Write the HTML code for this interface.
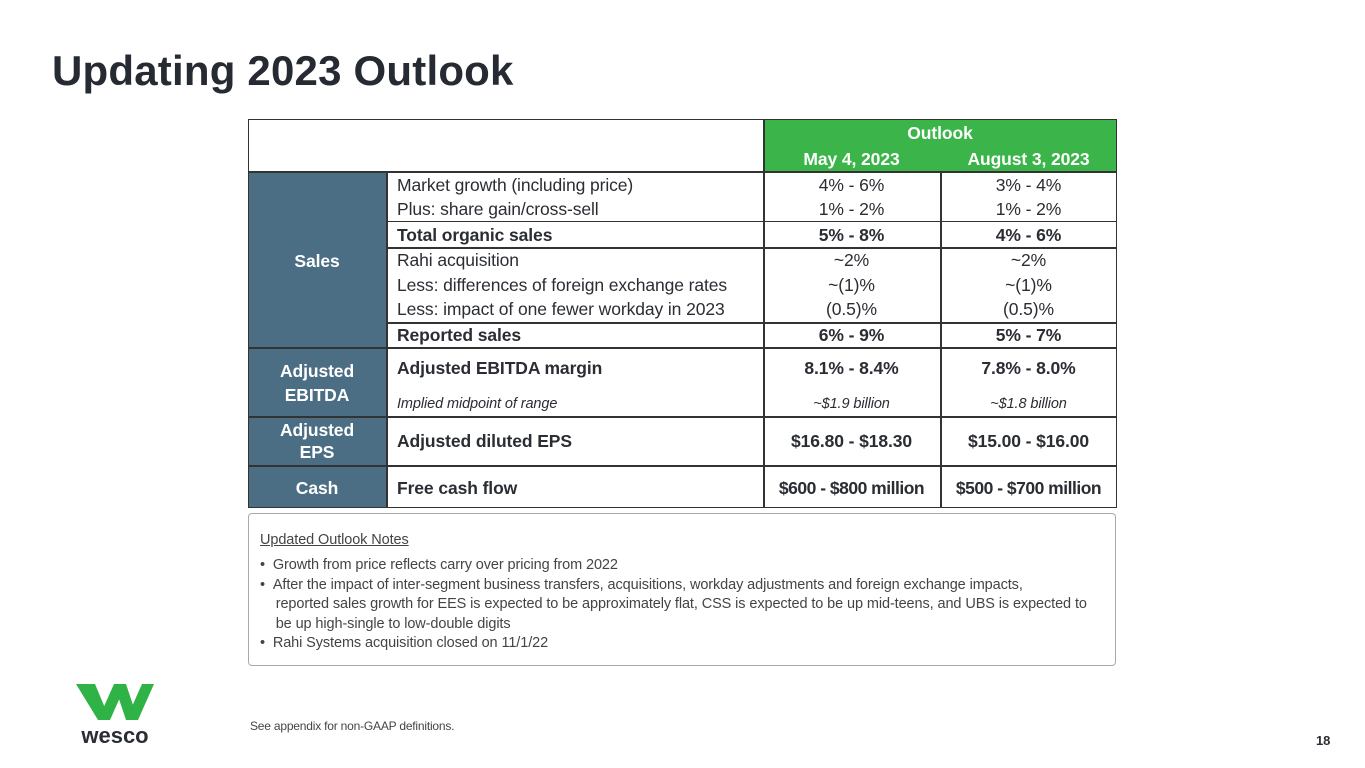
<!DOCTYPE html>
<html><head><meta charset="utf-8">
<style>
body{margin:0;width:1365px;height:768px;background:#fff;position:relative;overflow:hidden;font-family:"Liberation Sans",sans-serif;color:#2a2d33}
.a{position:absolute}
.t{position:absolute;white-space:nowrap;font-size:17.5px;letter-spacing:-0.1px;line-height:20px}
.b{font-weight:bold}
.c{text-align:center}
.w{color:#fff;font-weight:bold}
.hl{position:absolute;height:1.5px;background:#333}
.vl{position:absolute;width:1.5px;background:#333}
</style></head><body>
<div class="t b" style="left:52px;top:47px;font-size:42px;line-height:48px;letter-spacing:0.2px;color:#262a33">Updating 2023 Outlook</div>

<div>
<div class="a" style="left:763px;top:119px;width:354px;height:52px;background:#3bb54a"></div>
<div class="a" style="left:248px;top:171px;width:138px;height:337px;background:#4b6e85"></div>
<div class="a" style="left:248px;top:119px;width:867px;height:387px;border:1.5px solid #333"></div>
<div class="hl" style="left:248px;top:171px;width:869px"></div>
<div class="hl" style="left:386px;top:221px;width:731px;height:1px"></div>
<div class="hl" style="left:386px;top:247px;width:731px"></div>
<div class="hl" style="left:386px;top:322px;width:731px"></div>
<div class="hl" style="left:248px;top:347px;width:869px"></div>
<div class="hl" style="left:248px;top:416px;width:869px"></div>
<div class="hl" style="left:248px;top:465px;width:869px"></div>
<div class="vl" style="left:763px;top:119px;height:389px"></div>
<div class="vl" style="left:386px;top:171px;height:337px"></div>
<div class="vl" style="left:940px;top:171px;height:337px"></div>

<div class="t w c" style="left:763px;width:354px;top:123px">Outlook</div>
<div class="t w c" style="left:763px;width:177px;top:149px">May 4, 2023</div>
<div class="t w c" style="left:940px;width:177px;top:149px">August 3, 2023</div>

<div class="t w c" style="left:248px;width:138px;top:251px">Sales</div>
<div class="t w c" style="left:248px;width:138px;top:359px;line-height:24px">Adjusted<br>EBITDA</div>
<div class="t w c" style="left:248px;width:138px;top:419px;line-height:22px">Adjusted<br>EPS</div>
<div class="t w c" style="left:248px;width:138px;top:478px">Cash</div>

<div class="t" style="left:397px;top:175px">Market growth (including price)</div>
<div class="t c" style="left:763px;width:177px;top:175px">4% - 6%</div>
<div class="t c" style="left:940px;width:177px;top:175px">3% - 4%</div>
<div class="t" style="left:397px;top:199px">Plus: share gain/cross-sell</div>
<div class="t c" style="left:763px;width:177px;top:199px">1% - 2%</div>
<div class="t c" style="left:940px;width:177px;top:199px">1% - 2%</div>
<div class="t b" style="left:397px;top:225px">Total organic sales</div>
<div class="t b c" style="left:763px;width:177px;top:225px">5% - 8%</div>
<div class="t b c" style="left:940px;width:177px;top:225px">4% - 6%</div>
<div class="t" style="left:397px;top:250px">Rahi acquisition</div>
<div class="t c" style="left:763px;width:177px;top:250px">~2%</div>
<div class="t c" style="left:940px;width:177px;top:250px">~2%</div>
<div class="t" style="left:397px;top:275px">Less: differences of foreign exchange rates</div>
<div class="t c" style="left:763px;width:177px;top:275px">~(1)%</div>
<div class="t c" style="left:940px;width:177px;top:275px">~(1)%</div>
<div class="t" style="left:397px;top:299px">Less: impact of one fewer workday in 2023</div>
<div class="t c" style="left:763px;width:177px;top:299px">(0.5)%</div>
<div class="t c" style="left:940px;width:177px;top:299px">(0.5)%</div>
<div class="t b" style="left:397px;top:325px">Reported sales</div>
<div class="t b c" style="left:763px;width:177px;top:325px">6% - 9%</div>
<div class="t b c" style="left:940px;width:177px;top:325px">5% - 7%</div>

<div class="t b" style="left:397px;top:358px">Adjusted EBITDA margin</div>
<div class="t b c" style="left:763px;width:177px;top:358px">8.1% - 8.4%</div>
<div class="t b c" style="left:940px;width:177px;top:358px">7.8% - 8.0%</div>
<div class="t" style="left:397px;top:394px;font-size:14.5px;font-style:italic">Implied midpoint of range</div>
<div class="t c" style="left:763px;width:177px;top:394px;font-size:14.5px;font-style:italic">~$1.9 billion</div>
<div class="t c" style="left:940px;width:177px;top:394px;font-size:14.5px;font-style:italic">~$1.8 billion</div>

<div class="t b" style="left:397px;top:431px">Adjusted diluted EPS</div>
<div class="t b c" style="left:763px;width:177px;top:431px">$16.80 - $18.30</div>
<div class="t b c" style="left:940px;width:177px;top:431px">$15.00 - $16.00</div>

<div class="t b" style="left:397px;top:478px">Free cash flow</div>
<div class="t b c" style="left:763px;width:177px;top:478px;letter-spacing:-0.5px">$600 - $800 million</div>
<div class="t b c" style="left:940px;width:177px;top:478px;letter-spacing:-0.5px">$500 - $700 million</div>
</div>

<div class="a" style="left:248px;top:513px;width:866px;height:151px;border:1.5px solid #aaa;border-radius:4px"></div>
<div class="t" style="left:260px;top:530px;font-size:14.5px;letter-spacing:-0.1px;text-decoration:underline;color:#444">Updated Outlook Notes</div>
<div class="t" style="left:260px;top:556px;font-size:14.5px;letter-spacing:-0.1px;color:#444;line-height:19.5px">
• &nbsp;Growth from price reflects carry over pricing from 2022<br>
• &nbsp;After the impact of inter-segment business transfers, acquisitions, workday adjustments and foreign exchange impacts,<br>
&nbsp;&nbsp;&nbsp;&nbsp;reported sales growth for EES is expected to be approximately flat, CSS is expected to be up mid-teens, and UBS is expected to<br>
&nbsp;&nbsp;&nbsp;&nbsp;be up high-single to low-double digits<br>
• &nbsp;Rahi Systems acquisition closed on 11/1/22</div>

<svg class="a" style="left:76px;top:684px" width="80" height="60">
<polygon points="0,0 19,0 34,36 22,36" fill="#2fb246"/>
<polygon points="22,36 38,0 50,0 34,36" fill="#2fb246"/>
<polygon points="38,0 50,0 62,36 50,36" fill="#2fb246"/>
<polygon points="50,36 66,0 78,0 62,36" fill="#2fb246"/>
<text x="39" y="59" text-anchor="middle" font-family="Liberation Sans" font-weight="bold" font-size="22" fill="#2a2d33">wesco</text>
</svg>
<div class="t" style="left:250px;top:716px;font-size:12px;letter-spacing:-0.2px;color:#444">See appendix for non-GAAP definitions.</div>
<div class="t b" style="left:1316px;top:731px;font-size:13px">18</div>
</body></html>
